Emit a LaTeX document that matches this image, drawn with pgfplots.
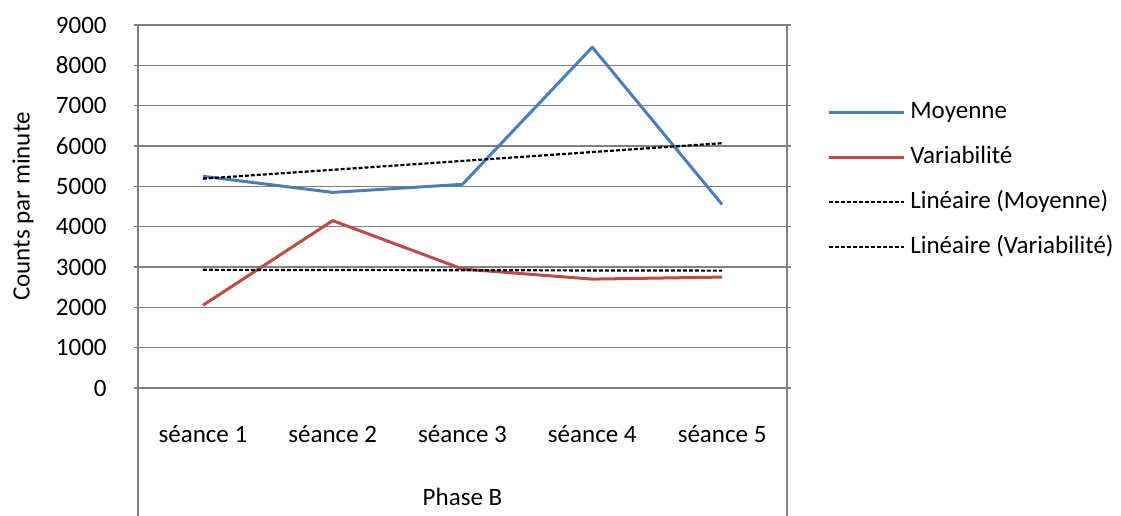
\documentclass[border=0pt]{standalone}
\usepackage{fontspec}
\setmainfont{Carlito}
\usepackage{pgfplots}
\pgfplotsset{compat=1.18}
\definecolor{moy}{HTML}{4A7EBB}
\definecolor{var}{HTML}{BE4B48}
\definecolor{gridc}{HTML}{808080}
\begin{document}
\fontsize{12.5}{14.5}\selectfont
\begin{tikzpicture}
\begin{axis}[name=ax, at={(0,0)}, anchor=south west,
  scale only axis, width=324.5pt, height=181.5pt,
  xmin=0, xmax=5, ymin=0, ymax=9000,
  xtick={0.5,1.5,2.5,3.5,4.5},
  xticklabels={séance 1,séance 2,séance 3,séance 4,séance 5},
  ytick={0,1000,2000,3000,4000,5000,6000,7000,8000,9000},
  /pgf/number format/assume math mode=true,
  scaled y ticks=false,
  yticklabel style={/pgf/number format/1000 sep={}, anchor=east, inner sep=0pt, xshift=-13.5pt},
  xticklabel style={anchor=center, yshift=-21pt},
  tick align=outside, major tick length=2pt,
  xtick style={draw=none}, ytick style={gridc, line width=0.6pt},
  ymajorgrids, grid style={gridc, line width=0.8pt},
  axis line style={gridc, line width=0.6pt},
  xlabel={Phase B},
  xlabel style={at={(axis description cs:0.5,-0.30)}, anchor=center},
  ylabel={Counts par minute},
  ylabel style={at={(axis description cs:-0.177,0.5)}, anchor=center},
  legend cell align=left,
  legend style={draw=none, fill=none, at={(axis description cs:1.0616,0.574)}, anchor=west,
    inner sep=0pt, row sep=10.5pt,
    nodes={inner sep=0pt, text height=9pt, text depth=3pt}},
  legend image code/.code={\draw[#1] (0pt,0pt) -- (37.5pt,0pt);},
  every axis plot/.append style={line join=round},
]
\addplot[moy, line width=1.5pt] coordinates {(0.5,5250) (1.5,4850) (2.5,5050) (3.5,8450) (4.5,4550)};
\addlegendentry{\hspace{2.5pt}Moyenne}
\addplot[var, line width=1.5pt] coordinates {(0.5,2050) (1.5,4150) (2.5,2950) (3.5,2700) (4.5,2750)};
\addlegendentry{\hspace{2.5pt}Variabilité}
\addplot[black, line width=1.1pt, dash pattern=on 2pt off 1pt] coordinates {(0.5,5190) (4.5,6070)};
\addlegendentry{\hspace{2.5pt}Linéaire (Moyenne)}
\addplot[black, line width=1.1pt, dash pattern=on 2pt off 1pt] coordinates {(0.5,2930) (4.5,2910)};
\addlegendentry{\hspace{2.5pt}Linéaire (Variabilité)}
\end{axis}
\draw[gridc, line width=0.6pt] (ax.south west) -- ++(0,-80pt);
\draw[gridc, line width=0.6pt] (ax.south east) -- ++(0,-80pt);
\pgfresetboundingbox
\useasboundingbox (-69pt,-63.5pt) rectangle (491.5pt,194pt);
\end{tikzpicture}
\end{document}
